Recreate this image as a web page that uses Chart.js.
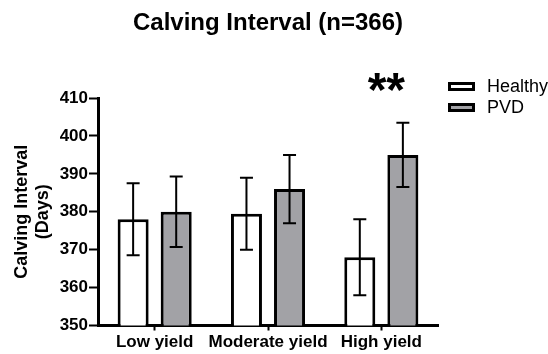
<!DOCTYPE html>
<html>
<head>
<meta charset="utf-8">
<script src="https://cdn.jsdelivr.net/npm/chart.js@4.4.0/dist/chart.umd.min.js"></script>
<style>
html, body { margin: 0; padding: 0; background: #fff; }
</style>
</head>
<body>
<canvas id="graph" width="548" height="354"></canvas>
<script>
const groups = ["Low yield", "Moderate yield", "High yield"];
const healthyMean = [378, 379.5, 368];
const healthyErr = [9.5, 9.5, 10];
const pvdMean = [380, 386, 395];
const pvdErr = [9.3, 9, 8.5];
const yTicks = [350, 360, 370, 380, 390, 400, 410];
const stars = ["", "", "**"];

const FONT = "'Liberation Sans', Arial, sans-serif";

// error bars on top of each bar
const errorBars = {
    id: "errorBars",
    afterDatasetsDraw(chart) {
        const ctx = chart.ctx;
        const y = chart.scales.y;
        chart.data.datasets.forEach((ds, di) => {
            const meta = chart.getDatasetMeta(di);
            meta.data.forEach((bar, i) => {
                const hi = y.getPixelForValue(ds.data[i] + ds.err[i]);
                const lo = y.getPixelForValue(ds.data[i] - ds.err[i]);
                ctx.save();
                ctx.strokeStyle = "#000";
                ctx.lineWidth = 2;
                ctx.beginPath();
                ctx.moveTo(bar.x, hi); ctx.lineTo(bar.x, lo);
                ctx.moveTo(bar.x - 6.5, hi); ctx.lineTo(bar.x + 6.5, hi);
                ctx.moveTo(bar.x - 6.5, lo); ctx.lineTo(bar.x + 6.5, lo);
                ctx.stroke();
                ctx.restore();
            });
        });
    }
};

// title, legend and significance stars
const extras = {
    id: "extras",
    afterDraw(chart) {
        const ctx = chart.ctx;
        const area = chart.chartArea;
        ctx.save();
        ctx.fillStyle = "#000";
        ctx.textAlign = "center";
        ctx.textBaseline = "middle";
        ctx.font = "bold 24px " + FONT;
        ctx.fillText("Calving Interval (n=366)", (area.left + area.right) / 2, 23);

        const x = chart.scales.x;
        ctx.font = "bold 48px " + FONT;
        ctx.textBaseline = "alphabetic";
        stars.forEach((s, i) => {
            if (s) ctx.fillText(s, x.getPixelForValue(i) + 5, area.top + 8);
        });

        ctx.textAlign = "left";
        ctx.textBaseline = "middle";
        ctx.font = "18px " + FONT;
        chart.data.datasets.forEach((ds, i) => {
            const top = 82 + i * 21;
            ctx.fillStyle = ds.backgroundColor;
            ctx.fillRect(449, top + 1, 25, 7);
            ctx.strokeStyle = "#000";
            ctx.lineWidth = 3;
            ctx.strokeRect(449.5, top + 1.5, 24, 6);
            ctx.fillStyle = "#000";
            ctx.fillText(ds.label, 487, top + 5);
        });
        ctx.restore();
    }
};

new Chart(document.getElementById("graph"), {
    type: "bar",
    data: {
        labels: groups,
        datasets: [{
            label: "Healthy",
            data: healthyMean,
            err: healthyErr,
            backgroundColor: "#ffffff",
            borderColor: "#000",
            borderWidth: 3
        }, {
            label: "PVD",
            data: pvdMean,
            err: pvdErr,
            backgroundColor: "#a2a2a6",
            borderColor: "#000",
            borderWidth: 3
        }]
    },
    options: {
        responsive: false,
        animation: false,
        events: [],
        categoryPercentage: 0.76,
        barPercentage: 0.72,
        layout: {padding: {top: 98, right: 110, left: 0, bottom: 0}},
        plugins: {
            legend: {display: false},
            tooltip: {enabled: false},
            title: {display: false}
        },
        scales: {
            x: {
                afterFit: s => { s.height = 28.5; },
                grid: {offset: false, drawOnChartArea: false, drawTicks: true, tickLength: 5, tickWidth: 2, color: "#000"},
                border: {color: "#000", width: 3},
                ticks: {
                    color: "#000", padding: 2, autoSkip: false, minRotation: 0, maxRotation: 0,
                    font: {family: FONT, size: 17, weight: "bold"}
                }
            },
            y: {
                min: 350,
                max: 410,
                afterFit: s => { s.width = 98; },
                afterBuildTicks: s => { s.ticks = yTicks.map(v => ({value: v})); },
                grid: {drawOnChartArea: false, drawTicks: true, tickLength: 9, tickWidth: 2, color: "#000"},
                border: {color: "#000", width: 3},
                ticks: {color: "#000", padding: 1, font: {family: FONT, size: 17, weight: "bold"}},
                title: {
                    display: true,
                    text: ["Calving Interval", "(Days)"],
                    color: "#000",
                    padding: {top: 11, bottom: 0},
                    font: {family: FONT, size: 18, weight: "bold"}
                }
            }
        }
    },
    plugins: [errorBars, extras]
});
</script>
</body>
</html>
